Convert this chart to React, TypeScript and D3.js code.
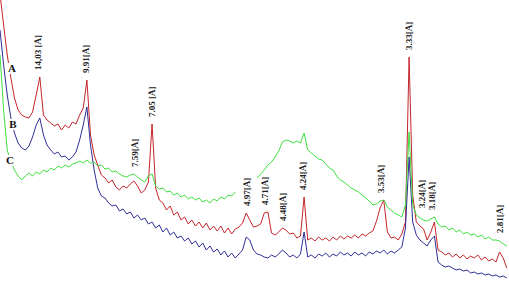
import React from "react";
import * as d3 from "d3";

// step scan, Cu K-alpha
const scanStart = 4.2;
const scanStep = 0.2;
const lambda = 1.5406;

// intensities (a.u.) read per step, sample A (red), B (blue), C (green)
const intensityA = [
  290, 259, 229, 206, 186, 174, 169, 167, 166, 172,
  189, 207, 169, 164, 161, 158, 160, 154, 159, 156,
  162, 160, 169, 176, 204, 149, 129, 119, 109, 106,
  101, 104, 97, 94, 98, 96, 100, 103, 98, 91,
  94, 102, 160, 96, 84, 81, 74, 78, 69, 72,
  64, 67, 60, 64, 58, 62, 56, 61, 54, 58,
  53, 58, 51, 56, 50, 55, 57, 61, 71, 64,
  57, 58, 60, 71, 72, 51, 49, 52, 56, 54,
  50, 51, 46, 48, 87, 44, 46, 43, 47, 44,
  46, 43, 47, 44, 48, 45, 48, 46, 49, 46,
  50, 48, 51, 53, 63, 76, 84, 52, 46, 47,
  44, 50, 62, 227, 89, 62, 58, 55, 44, 52,
  62, 34, 32, 29, 31, 27, 30, 26, 29, 25,
  28, 26, 29, 24, 27, 23, 25, 22, 32, 26,
  16,
];

const intensityB = [
  254, 219, 189, 166, 151, 141, 136, 134, 138, 147,
  159, 166, 149, 139, 134, 130, 132, 127, 128, 124,
  127, 132, 144, 159, 177, 139, 114, 96, 88, 86,
  81, 78, 79, 73, 75, 70, 72, 66, 69, 64,
  66, 60, 62, 56, 59, 52, 56, 49, 52, 46,
  48, 43, 46, 40, 43, 37, 41, 34, 38, 32,
  35, 29, 33, 27, 31, 26, 30, 34, 47, 44,
  34, 30, 29, 27, 26, 29, 27, 30, 34, 31,
  27, 29, 26, 30, 52, 27, 29, 26, 30, 28,
  31, 27, 30, 28, 32, 29, 31, 28, 32, 29,
  31, 28, 32, 30, 33, 31, 34, 30, 33, 31,
  34, 37, 56, 127, 62, 49, 44, 41, 38, 44,
  48, 22, 19, 17, 18, 16, 14, 15, 13, 14,
  11, 12, 10, 11, 9, 10, 8, 9, 7, 8,
  6,
];

const intensityC: (number | null)[] = [
  229, 174, 134, 122, 114, 108, 104, 108, 111, 108,
  112, 110, 114, 112, 116, 114, 118, 116, 119, 117,
  120, 121, 123, 121, 124, 121, 122, 118, 119, 115,
  116, 112, 113, 110, 108, 107, 109, 110, 107, 104,
  102, 108, 110, 98, 95, 96, 92, 93, 89, 91,
  87, 89, 85, 87, 84, 86, 82, 84, 81, 85,
  83, 87, 85, 89, 88, 92, null, null, null, null,
  null, 106, 110, 114, 119, 122, 127, 133, 142, 144,
  143, 141, 143, 141, 151, 134, 131, 128, 125, 124,
  120, 116, 114, 108, 104, 102, 99, 96, 94, 92,
  89, 86, 83, 79, 80, 83, 84, 77, 74, 71,
  69, 67, 79, 152, 79, 69, 66, 64, 63, 65,
  67, 60, 57, 58, 54, 56, 52, 54, 50, 52,
  49, 50, 47, 49, 45, 47, 44, 44, 43, 40,
  38,
];

const peakD = [14.03, 9.91, 7.05, 7.59, 4.97, 4.71, 4.48, 4.24, 3.53, 3.33, 3.24, 3.18, 2.81];
const peakLabels = [
  "14,03 [Å]", "9.91[Å]", "7.05 [Å]", "7.59[Å]", "4.97[Å]", "4.71[Å]", "4.48[Å]",
  "4.24[Å]", "3.53[Å]", "3.33[Å]", "3.24[Å]", "3.18[Å]", "2.81[Å]",
];
const peakTrace = ["A", "A", "A", "C", "A", "A", "A", "A", "A", "A", "C", "C", "C"];

const traceNames = ["A", "B", "C"];

const width = 509;
const height = 284;
const colors: Record<string, string> = { A: "#c3262c", B: "#2f2f96", C: "#3fdf3f" };
// where the sample letters sit
const letterPos: Record<string, [number, number]> = { A: [12, 72], B: [13, 128], C: [10, 164] };

const App = () => {
  const series: Record<string, (number | null)[]> = { A: intensityA, B: intensityB, C: intensityC };
  const twoTheta = intensityA.map((_, i) => scanStart + scanStep * i);

  const x = d3.scaleLinear().domain([4.2, 32.32]).range([0, width]);
  const y = d3.scaleLinear().domain([0, 284]).range([height, 0]);

  const line = d3
    .line<number | null>()
    .defined((d) => d != null)
    .x((_, i) => x(twoTheta[i]))
    .y((d) => y(d as number));

  const bragg = (d: number) => (2 * Math.asin(lambda / (2 * d)) * 180) / Math.PI;

  const labels = peakD.map((d, k) => {
    const t = bragg(d);
    const vals = series[peakTrace[k]];
    let top = 0;
    twoTheta.forEach((tt, i) => {
      const v = vals[i];
      if (Math.abs(tt - t) <= 0.31 && v != null && v > top) top = v;
    });
    return { text: peakLabels[k], px: x(t), py: y(top) - 7 };
  });

  return (
    <svg
      width={width}
      height={height}
      style={{ position: "absolute", left: 0, top: 0, background: "#fff" }}
      fontFamily="'Liberation Serif', 'Times New Roman', serif"
    >
      {traceNames.map((n) => (
        <path key={n} d={line(series[n]) || ""} fill="none" stroke={colors[n]} strokeWidth={1} />
      ))}
      {labels.map((l) => (
        <text
          key={l.text}
          transform={`translate(${l.px + 3.5},${l.py}) rotate(-90)`}
          fontSize={9}
          fontWeight="bold"
          fill="#222"
        >
          {l.text}
        </text>
      ))}
      {traceNames.map((n) => (
        <g key={n} transform={`translate(${letterPos[n][0]},${letterPos[n][1]})`}>
          <rect x={-5} y={-9} width={10} height={11} fill="#fff" />
          <text textAnchor="middle" fontSize={11} fontWeight="bold" fill="#111">
            {n}
          </text>
        </g>
      ))}
    </svg>
  );
};

export default App;
